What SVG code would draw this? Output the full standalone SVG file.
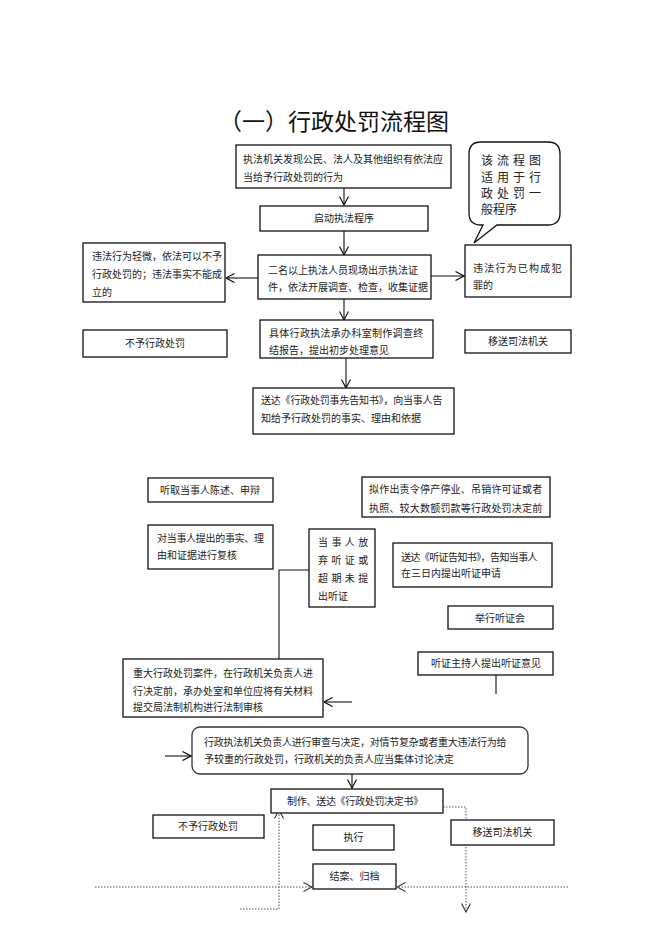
<svg xmlns="http://www.w3.org/2000/svg" width="662" height="936" viewBox="0 0 662 936">
<style>
.box{fill:#fff;stroke:#111;stroke-width:1.3}
.t{font-family:"Noto Sans CJK SC","Noto Sans CJK JP",sans-serif;font-size:10px;fill:#222}
.b{font-family:"Noto Sans CJK SC","Noto Sans CJK JP",sans-serif;font-size:12px;fill:#222}
.c{text-anchor:middle}
.ln{fill:none;stroke:#111;stroke-width:1.1}
.dot{fill:none;stroke:#555;stroke-width:1;stroke-dasharray:1.5 1.5}
</style>
<defs>
<marker id="ah" viewBox="0 0 10 10" refX="9.5" refY="5" markerWidth="10" markerHeight="10" markerUnits="userSpaceOnUse" orient="auto">
<path d="M1,0.5 L9.5,5 L1,9.5" fill="none" stroke="#111" stroke-width="1.2"/>
</marker>
<marker id="ahd" viewBox="0 0 10 10" refX="9.5" refY="5" markerWidth="10" markerHeight="10" markerUnits="userSpaceOnUse" orient="auto">
<path d="M1,0.5 L9.5,5 L1,9.5" fill="none" stroke="#333" stroke-width="1.1"/>
</marker>
</defs>
<rect width="662" height="936" fill="#fff"/>
<text x="334" y="130" text-anchor="middle" font-family="'Noto Sans CJK SC','Noto Sans CJK JP',sans-serif" font-size="23" fill="#111">（一）行政处罚流程图</text>

<g id="connectors">
<line class="ln" x1="344" y1="188" x2="344" y2="205" marker-end="url(#ah)"/>
<line class="ln" x1="344" y1="231" x2="344" y2="255" marker-end="url(#ah)"/>
<line class="ln" x1="258" y1="278" x2="226" y2="278" marker-end="url(#ah)"/>
<line class="ln" x1="431" y1="276" x2="464" y2="276" marker-end="url(#ah)"/>
<line class="ln" x1="344" y1="299" x2="344" y2="320" marker-end="url(#ah)"/>
<line class="ln" x1="346" y1="358" x2="346" y2="388" marker-end="url(#ah)"/>
<polyline class="ln" points="309,570 279,570 279,659"/>
<line class="ln" x1="352" y1="702" x2="324" y2="702" marker-end="url(#ah)"/>
<line class="ln" x1="496" y1="675" x2="496" y2="694"/>
<line class="ln" x1="165" y1="756" x2="191" y2="756" marker-end="url(#ah)"/>
<line class="ln" x1="352" y1="774" x2="352" y2="788" marker-end="url(#ah)"/>
<polyline class="dot" points="443,807 466,807 466,912" marker-end="url(#ahd)"/>
<polyline class="dot" points="240,909 279,909 279,810" marker-end="url(#ahd)"/>
<line class="dot" x1="95" y1="887" x2="312" y2="887" marker-end="url(#ahd)"/>
<line class="dot" x1="568" y1="887" x2="397" y2="887" marker-end="url(#ahd)"/>
</g>

<g id="n-discover">
<rect class="box" x="236" y="145" width="215" height="43"/>
<text class="t" x="243" y="163">执法机关发现公民、法人及其他组织有依法应</text>
<text class="t" x="243" y="181">当给予行政处罚的行为</text>
</g>
<g id="n-note">
<path d="M481,142 H548 Q560,142 560,154 V213 Q560,225 548,225 H497 L474,243 L483,225 H481 Q469,225 469,213 V154 Q469,142 481,142 Z" fill="#fff" stroke="#111" stroke-width="1.3"/>
<text class="b" x="481" y="164.5" letter-spacing="4">该流程图</text>
<text class="b" x="481" y="181.5" letter-spacing="4">适用于行</text>
<text class="b" x="481" y="197.5" letter-spacing="4">政处罚一</text>
<text class="b" x="481" y="213.5">般程序</text>
</g>
<g id="n-start">
<rect class="box" x="260" y="206" width="168" height="25"/>
<text class="t c" x="344" y="222">启动执法程序</text>
</g>
<g id="n-minor">
<rect class="box" x="83" y="243" width="142" height="59"/>
<text class="t" x="92" y="260">违法行为轻微，依法可以不予</text>
<text class="t" x="92" y="278">行政处罚的；违法事实不能成</text>
<text class="t" x="92" y="296">立的</text>
</g>
<g id="n-investigate">
<rect class="box" x="258" y="255" width="173" height="44"/>
<text class="t" x="268" y="274">二名以上执法人员现场出示执法证</text>
<text class="t" x="268" y="291">件，依法开展调查、检查，收集证据</text>
</g>
<g id="n-crime">
<rect class="box" x="465" y="245" width="106" height="52"/>
<text class="t" x="473" y="272" letter-spacing="1.2">违法行为已构成犯</text>
<text class="t" x="473" y="289">罪的</text>
</g>
<g id="n-nopenalty1">
<rect class="box" x="83" y="330" width="144" height="27"/>
<text class="t c" x="155" y="347">不予行政处罚</text>
</g>
<g id="n-report">
<rect class="box" x="260" y="320" width="173" height="38"/>
<text class="t" x="269" y="337" letter-spacing="0.3">具体行政执法承办科室制作调查终</text>
<text class="t" x="269" y="354">结报告，提出初步处理意见</text>
</g>
<g id="n-transfer1">
<rect class="box" x="465" y="330" width="106" height="23"/>
<text class="t c" x="518" y="345">移送司法机关</text>
</g>
<g id="n-notice">
<rect class="box" x="253" y="388" width="201" height="46"/>
<text class="t" x="261" y="404" letter-spacing="-0.2">送达《行政处罚事先告知书》，向当事人告</text>
<text class="t" x="261" y="422">知给予行政处罚的事实、理由和依据</text>
</g>
<g id="n-listen">
<rect class="box" x="148" y="478" width="125" height="24"/>
<text class="t c" x="210" y="494">听取当事人陈述、申辩</text>
</g>
<g id="n-major">
<rect class="box" x="362" y="477" width="188" height="40"/>
<text class="t" x="369" y="493" letter-spacing="0.2">拟作出责令停产停业、吊销许可证或者</text>
<text class="t" x="369" y="512" letter-spacing="0.2">执照、较大数额罚款等行政处罚决定前</text>
</g>
<g id="n-review">
<rect class="box" x="148" y="525" width="125" height="44"/>
<text class="t" x="157" y="542" letter-spacing="-0.3">对当事人提出的事实、理</text>
<text class="t" x="157" y="559">由和证据进行复核</text>
</g>
<g id="n-waive">
<rect class="box" x="309" y="529" width="66" height="78"/>
<text class="t" x="318" y="546" letter-spacing="3.4">当事人放</text>
<text class="t" x="318" y="564" letter-spacing="3.4">弃听证或</text>
<text class="t" x="318" y="582" letter-spacing="3.4">超期未提</text>
<text class="t" x="318" y="600">出听证</text>
</g>
<g id="n-hearingnotice">
<rect class="box" x="393" y="543" width="159" height="44"/>
<text class="t" x="401" y="561" letter-spacing="-0.6">送达《听证告知书》，告知当事人</text>
<text class="t" x="401" y="577">在三日内提出听证申请</text>
</g>
<g id="n-hearing">
<rect class="box" x="448" y="606" width="105" height="23"/>
<text class="t c" x="500" y="621.5">举行听证会</text>
</g>
<g id="n-legal">
<rect class="box" x="123" y="659" width="200" height="58"/>
<text class="t" x="133" y="677">重大行政处罚案件，在行政机关负责人进</text>
<text class="t" x="133" y="695">行决定前，承办处室和单位应将有关材料</text>
<text class="t" x="133" y="711">提交局法制机构进行法制审核</text>
</g>
<g id="n-opinion">
<rect class="box" x="418" y="652" width="135" height="23"/>
<text class="t c" x="486" y="667">听证主持人提出听证意见</text>
</g>
<g id="n-decide">
<rect x="192" y="727" width="336" height="47" rx="8" ry="8" fill="#fff" stroke="#333" stroke-width="1.3"/>
<text class="t" x="204" y="746" letter-spacing="-0.25">行政执法机关负责人进行审查与决定，对情节复杂或者重大违法行为给</text>
<text class="t" x="204" y="763">予较重的行政处罚，行政机关的负责人应当集体讨论决定</text>
</g>
<g id="n-decision">
<rect class="box" x="271" y="789" width="172" height="24"/>
<text class="t c" x="355" y="805" letter-spacing="-0.3">制作、送达《行政处罚决定书》</text>
</g>
<g id="n-nopenalty2">
<rect class="box" x="153" y="815" width="111" height="23"/>
<text class="t c" x="208" y="830">不予行政处罚</text>
</g>
<g id="n-execute">
<rect class="box" x="313" y="825" width="81" height="25"/>
<text class="t c" x="353.5" y="841">执行</text>
</g>
<g id="n-transfer2">
<rect class="box" x="451" y="820" width="103" height="25"/>
<text class="t c" x="502.5" y="836">移送司法机关</text>
</g>
<g id="n-close">
<rect class="box" x="313" y="864" width="83" height="25"/>
<text class="t c" x="354.5" y="880">结案、归档</text>
</g>
</svg>
